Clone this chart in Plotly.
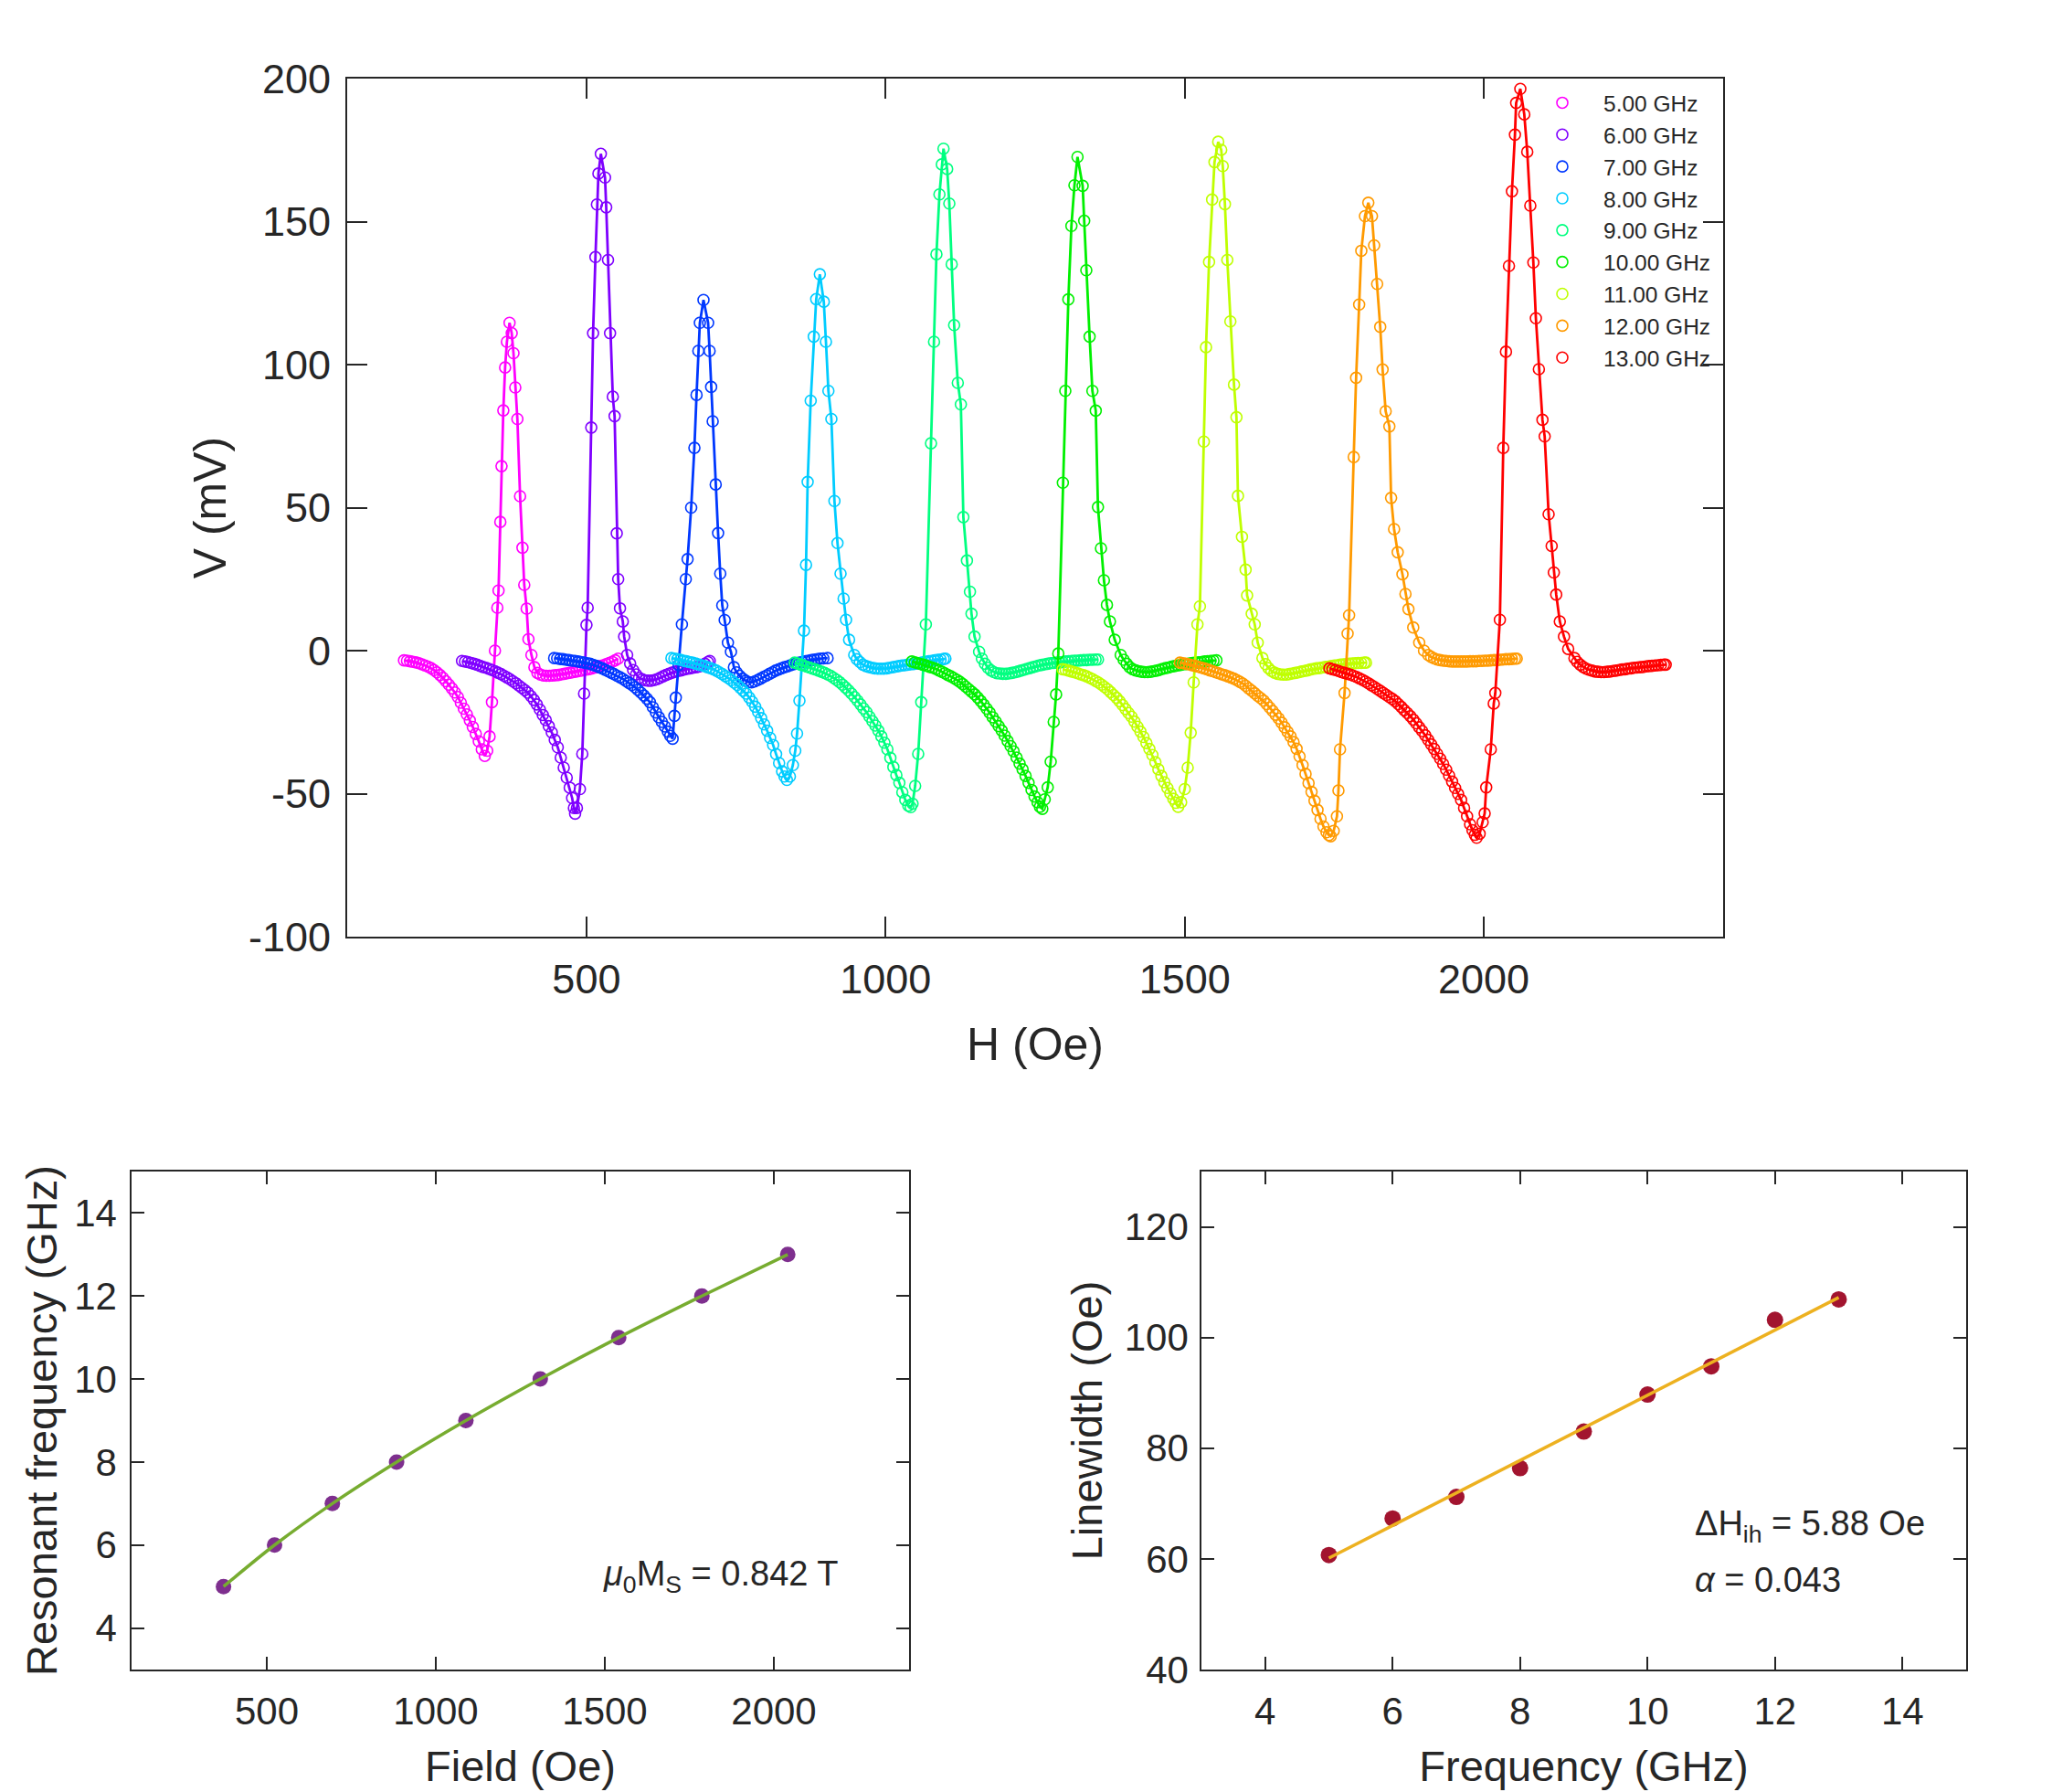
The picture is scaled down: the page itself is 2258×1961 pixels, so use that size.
import plotly.graph_objects as go
import numpy as np

# ---------------- data: top panel (FMR spectra, V in mV vs H in Oe) ----------------
labels = ["5.00 GHz", "6.00 GHz", "7.00 GHz", "8.00 GHz", "9.00 GHz",
          "10.00 GHz", "11.00 GHz", "12.00 GHz", "13.00 GHz"]
colors = ["#FF00FF", "#7F00FF", "#0038FF", "#00CCFF", "#00FF80",
          "#00F000", "#BFFF00", "#FF9A00", "#FF0000"]

spec_5 = [(195,-3.4),(200,-3.5),(205,-3.7),(210,-3.9),(215,-4.1),(220,-4.4),(225,-4.8),(230,-5.2),(235,-5.6),(240,-6.1),
          (245,-6.8),(250,-7.6),(255,-8.5),(260,-9.5),(265,-10.7),(270,-11.9),(275,-13.2),(280,-14.6),(285,-16.2),(290,-18.2),
          (295,-20.3),(300,-22.3),(305,-24.4),(310,-26.7),(315,-29.1),(320,-31.7),(325,-34.5),(330,-36.8),
          (334,-35),(338,-30),(342,-18),(347,0),(351,15),(353,21),(356,45),(358,64.5),(361,84),(364,99),(367,108),(371.4,114.6),
          (375,111),(378,104),(381,92),(384.5,81),(389,54),(393,36),(396,23),(400,14.7),(403,4),(408,-1.5),(413,-5.8),
          (418,-7.8),(423,-8.4),(428,-8.7),(433,-8.8),(438,-8.8),(443,-8.7),(448,-8.6),(453,-8.5),(458,-8.3),(463,-8.1),
          (468,-7.9),(473,-7.7),(478,-7.5),(483,-7.3),(488,-7.1),(493,-6.9),(498,-6.7),(503,-6.5),(508,-6.3),(513,-6.0),
          (518,-5.7),(523,-5.4),(528,-5.1),(533,-4.7),(538,-4.3),(543,-3.9),(548,-3.4),(553,-2.8)]

spec_6 = [(292,-3.6),(297,-3.8),(302,-4.0),(307,-4.3),(312,-4.6),(317,-4.9),(322,-5.3),(327,-5.7),(332,-6.0),(337,-6.4),
          (342,-6.8),(347,-7.2),(352,-7.7),(357,-8.2),(362,-8.8),(367,-9.4),(372,-10.0),(377,-10.7),(382,-11.4),(387,-12.2),
          (392,-13.0),(397,-13.8),(402,-14.7),(407,-15.9),(412,-17.2),(417,-18.8),(422,-20.6),(427,-22.5),(432,-24.3),(437,-26.4),
          (442,-28.6),(447,-31.2),(452,-33.8),(457,-37.4),(462,-40.9),(467,-44.4),(472,-47.9),(476,-51.5),(479,-55),(481,-57),
          (484,-55),(489,-48.4),(493,-36.1),(496,-15),(500,9),(502,15),(508,78),(511,111),(515,137.6),(517.5,156),(520,166.8),
          (524,173.7),(531,165.4),(533,155),(536,136.6),(539.4,111),(544,88.8),(547,82),(550.6,41),(553,25),(556,14.8),
          (560.7,10.2),(563,4.9),(568,-1.5),(573,-4.5),(578,-6.8),(583,-8.3),(588,-9.5),(593,-10.0),(598,-10.4),(603,-10.5),
          (608,-10.5),(613,-10.3),(618,-10.0),(623,-9.5),(628,-9.0),(633,-8.5),(638,-8.1),(643,-7.7),(648,-7.4),(653,-7.1),
          (658,-6.9),(663,-6.6),(668,-6.4),(673,-6.2),(678,-6.0),(683,-5.8),(688,-5.6),(693,-5.1),(698,-4.6),(703,-4.0),(706,-3.6)]

spec_7 = [(446,-2.6),(451,-2.7),(456,-2.9),(461,-3.0),(466,-3.2),(471,-3.3),(476,-3.5),(481,-3.6),(486,-3.8),(491,-4.0),
          (496,-4.2),(501,-4.4),(506,-4.6),(511,-5.0),(516,-5.3),(521,-5.8),(526,-6.2),(531,-6.7),(536,-7.2),(541,-7.7),
          (546,-8.2),(551,-8.8),(556,-9.3),(561,-9.9),(566,-10.6),(571,-11.3),(576,-12.0),(581,-12.8),(586,-13.7),(591,-14.7),
          (596,-15.7),(601,-16.8),(606,-18.0),(611,-19.8),(616,-21.6),(621,-23.3),(626,-24.9),(631,-26.5),(636,-28.3),(640,-29.8),
          (644,-30.8),(647,-22.8),(649.3,-16.4),(654,-5),(659.5,9.2),(666,25),(669,32),(675,50),(680.4,70.9),(684,89.4),
          (687,104.8),(689.5,114.6),(695.6,122.6),(703.3,114.6),(705.8,104.8),(708.4,92.2),(711,80.2),(716,58.1),(720,41.1),
          (723.6,26.9),(727,15.8),(731,10.7),(736.4,2.8),(741.5,-0.4),(746.5,-5.8),(751,-7.6),(756,-8.8),(761,-9.8),(766,-10.5),
          (771,-11.0),(776,-11.1),(781,-10.8),(786,-10.3),(791,-9.8),(796,-9.2),(801,-8.7),(806,-8.1),(811,-7.6),(816,-7.0),
          (821,-6.6),(826,-6.2),(831,-5.8),(836,-5.5),(841,-5.1),(846,-4.8),(851,-4.5),(856,-4.2),(861,-4.0),(866,-3.7),
          (871,-3.5),(876,-3.3),(881,-3.1),(886,-3.0),(891,-2.8),(896,-2.7),(903,-2.6)]

spec_8 = [(642,-2.6),(647,-2.8),(652,-3.0),(657,-3.2),(662,-3.5),(667,-3.7),(672,-4.0),(677,-4.2),(682,-4.5),(687,-4.8),
          (692,-5.1),(697,-5.4),(702,-5.8),(707,-6.1),(712,-6.5),(717,-7.0),(722,-7.6),(727,-8.2),(732,-8.9),(737,-9.6),
          (742,-10.3),(747,-11.2),(752,-12.0),(757,-13.0),(762,-14.0),(767,-15.0),(772,-16.4),(777,-17.9),(782,-19.6),(787,-21.5),
          (792,-23.6),(797,-25.8),(802,-28.0),(807,-30.5),(812,-33.0),(817,-36.2),(822,-39.3),(827,-42.2),(831,-44.0),(835,-45.2),
          (840,-44),(845,-40),(849,-35),(852,-29),(856,-17.5),(860,-5),(863.6,7),(867,30),(869.7,59),(874.8,87.4),(879.9,109.8),
          (884,122.9),(890.1,131.6),(896.7,122),(900.3,108),(904.4,90.8),(909.4,81),(914.5,52.3),(919.6,37.6),(924.7,26.9),
          (929.8,18.2),(933.9,10.8),(939,3.8),(947.6,-1.5),(952,-3.0),(957,-4.0),(962,-4.9),(967,-5.4),(972,-5.7),(977,-6.0),
          (982,-6.2),(987,-6.3),(992,-6.3),(997,-6.3),(1002,-6.2),(1007,-6.0),(1012,-5.8),(1017,-5.6),(1022,-5.4),(1027,-5.2),
          (1032,-5.1),(1037,-4.9),(1042,-4.8),(1047,-4.7),(1052,-4.5),(1057,-4.3),(1062,-4.1),(1067,-3.9),(1072,-3.7),(1077,-3.6),
          (1082,-3.4),(1087,-3.2),(1092,-3.1),(1097,-2.9),(1100,-2.8)]

spec_9 = [(848,-4.2),(853,-4.5),(858,-4.9),(863,-5.2),(868,-5.6),(873,-5.9),(878,-6.3),(883,-6.6),(888,-7.0),(893,-7.4),
          (898,-7.8),(903,-8.3),(908,-8.8),(913,-9.5),(918,-10.2),(923,-11.0),(928,-11.9),(933,-12.9),(938,-13.9),(943,-15.0),
          (948,-16.2),(953,-17.5),(958,-18.8),(963,-20.2),(968,-21.5),(973,-23.1),(978,-24.7),(983,-26.2),(988,-28.0),(993,-30.0),
          (998,-32.2),(1003,-34.5),(1008,-37.5),(1013,-40.7),(1018,-43.5),(1023,-46.2),(1028,-49.5),(1033,-52.2),(1038,-54.2),(1042,-54.7),
          (1045,-53.5),(1049.4,-47.3),(1054.5,-36.1),(1059.6,-18),(1063,-5),(1067.3,9.2),(1075.9,72.5),(1081,108),(1085,138.6),
          (1090,159.5),(1094,170),(1096.8,175.5),(1102.9,168.4),(1106.5,156.3),(1110.5,135.1),(1114.6,113.8),(1120.7,93.6),
          (1125.8,86.1),(1130,46.7),(1136,31.5),(1141,20.6),(1143.6,12.9),(1148.7,4.9),(1156.3,-0.4),(1161,-2.8),(1166,-4.6),
          (1171,-6.0),(1176,-6.9),(1181,-7.5),(1186,-7.9),(1191,-8.0),(1196,-8.1),(1201,-8.1),(1206,-8.0),(1211,-7.8),(1216,-7.6),
          (1221,-7.3),(1226,-7.0),(1231,-6.7),(1236,-6.4),(1241,-6.1),(1246,-5.8),(1251,-5.5),(1256,-5.2),(1261,-5.0),(1266,-4.8),
          (1271,-4.6),(1276,-4.4),(1281,-4.3),(1286,-4.2),(1291,-4.1),(1296,-4.0),(1301,-3.8),(1306,-3.7),(1311,-3.6),(1316,-3.5),
          (1321,-3.5),(1326,-3.4),(1331,-3.3),(1336,-3.3),(1341,-3.2),(1346,-3.2),(1351,-3.1),(1355,-3.1)]

spec_10 = [(1044,-3.8),(1049,-4.1),(1054,-4.4),(1059,-4.7),(1064,-5.0),(1069,-5.3),(1074,-5.7),(1079,-6.0),(1084,-6.4),(1089,-6.9),
           (1094,-7.4),(1099,-7.9),(1104,-8.5),(1109,-9.0),(1114,-9.6),(1119,-10.2),(1124,-10.9),(1129,-11.7),(1134,-12.6),(1139,-13.5),
           (1144,-14.4),(1149,-15.3),(1154,-16.4),(1159,-17.6),(1164,-18.9),(1169,-20.3),(1174,-21.7),(1179,-23.3),(1184,-24.8),(1189,-26.4),
           (1194,-27.9),(1199,-29.7),(1204,-31.6),(1209,-33.4),(1214,-35.2),(1219,-37.4),(1224,-39.5),(1229,-41.5),(1234,-43.8),(1239,-46.2),
           (1244,-48.7),(1249,-51.0),(1254,-53.0),(1258,-54.6),(1262,-55.3),(1266,-52),(1271,-47.8),(1276,-38.8),(1281,-24.9),(1285,-15.3),
           (1288.7,-1),(1296.3,58.7),(1300.4,90.8),(1305.5,122.8),(1310.6,148.5),(1315.7,162.7),(1320.8,172.6),(1329.4,162.5),(1332,150.3),
           (1335.5,133),(1341,109.8),(1345.7,90.8),(1351.3,83.9),(1355,50.2),(1360,35.8),(1365,24.6),(1370,16),(1375,10.2),(1383,3.8),
           (1393,-1.5),(1398,-3.2),(1403,-4.6),(1408,-5.8),(1413,-6.5),(1418,-6.9),(1423,-7.2),(1428,-7.4),(1433,-7.5),(1438,-7.5),
           (1443,-7.4),(1448,-7.2),(1453,-7.0),(1458,-6.7),(1463,-6.4),(1468,-6.1),(1473,-5.9),(1478,-5.6),(1483,-5.4),(1488,-5.2),
           (1493,-5.0),(1498,-4.8),(1503,-4.7),(1508,-4.5),(1513,-4.3),(1518,-4.2),(1523,-4.1),(1528,-4.0),(1533,-3.8),(1538,-3.7),
           (1543,-3.6),(1548,-3.5),(1553,-3.4)]

spec_11 = [(1296,-6.5),(1301,-6.7),(1306,-7.0),(1311,-7.3),(1316,-7.6),(1321,-7.9),(1326,-8.3),(1331,-8.6),(1336,-9.0),(1341,-9.5),
           (1346,-10.0),(1351,-10.6),(1356,-11.2),(1361,-11.9),(1366,-12.7),(1371,-13.5),(1376,-14.5),(1381,-15.5),(1386,-16.5),(1391,-17.7),
           (1396,-19.0),(1401,-20.4),(1406,-21.8),(1411,-23.1),(1416,-24.8),(1421,-26.6),(1426,-28.3),(1431,-30.2),(1436,-32.3),(1441,-34.4),
           (1446,-36.5),(1451,-39.0),(1456,-41.5),(1461,-43.8),(1466,-46.0),(1471,-48.0),(1476,-49.9),(1481,-51.8),(1485,-53.2),(1489,-54.6),
           (1494,-53),(1500,-48.4),(1505,-40.9),(1510,-28.7),(1515,-11.1),(1521.3,9.2),(1525.4,15.5),(1532,73.1),(1535.6,106.1),(1540.7,135.9),
           (1545.8,157.7),(1549.8,170.8),(1556,177.9),(1561,175.1),(1563.6,169.4),(1567.2,156.1),(1571.2,136.6),(1576.3,115.1),(1582.4,93),
           (1586.5,81.6),(1589,54.1),(1595.7,39.8),(1601.8,28.3),(1604.3,19.3),(1612,12.9),(1617,9.2),(1622,2.8),(1630,-2.6),(1635,-4.7),
           (1640,-6.1),(1645,-7.1),(1650,-7.7),(1655,-8.1),(1660,-8.3),(1665,-8.4),(1670,-8.4),(1675,-8.2),(1680,-8.0),(1685,-7.8),
           (1690,-7.6),(1695,-7.3),(1700,-7.1),(1705,-6.9),(1710,-6.6),(1715,-6.4),(1720,-6.2),(1725,-6.1),(1730,-5.9),(1735,-5.7),
           (1740,-5.6),(1745,-5.4),(1750,-5.2),(1755,-5.1),(1760,-4.9),(1765,-4.8),(1770,-4.7),(1775,-4.6),(1780,-4.5),(1785,-4.4),
           (1790,-4.3),(1795,-4.3),(1800,-4.2),(1803,-4.2)]

spec_12 = [(1492,-4.2),(1497,-4.4),(1502,-4.6),(1507,-4.8),(1512,-5.1),(1517,-5.3),(1522,-5.6),(1527,-5.9),(1532,-6.2),(1537,-6.5),
           (1542,-6.9),(1547,-7.2),(1552,-7.6),(1557,-7.9),(1562,-8.3),(1567,-8.6),(1572,-9.0),(1577,-9.4),(1582,-9.8),(1587,-10.3),
           (1592,-10.9),(1597,-11.5),(1602,-12.3),(1607,-13.2),(1612,-14.0),(1617,-14.9),(1622,-15.8),(1627,-16.6),(1632,-17.5),(1637,-18.7),
           (1642,-19.9),(1647,-21.1),(1652,-22.4),(1657,-23.7),(1662,-25.2),(1667,-26.8),(1672,-28.4),(1677,-30.0),(1682,-32.0),(1687,-34.3),
           (1692,-37.0),(1697,-40.0),(1702,-43.1),(1707,-46.3),(1712,-49.4),(1717,-52.5),(1722,-55.7),(1727,-58.8),(1732,-61.5),(1737,-63.5),
           (1741,-64.5),(1744,-64.9),(1749,-63),(1754.5,-57.9),(1757,-48.9),(1759.6,-34.5),(1767.2,-14.8),(1772.3,6),(1774.8,12.4),
           (1782.5,67.7),(1786.5,95.4),(1791.6,121),(1795.2,139.8),(1801.3,151.9),(1806.9,156.6),(1813,151.9),(1816.6,141.7),(1821.7,128.2),
           (1826.8,113.2),(1830.8,98.3),(1835.9,83.7),(1842.1,78.4),(1845,53.4),(1850,42.5),(1856,34.4),(1864,26.7),(1869,19.8),(1874,14.5),
           (1882,8.1),(1892,2.8),(1900,0),(1907,-1.5),(1912,-2.2),(1917,-2.7),(1922,-3.1),(1927,-3.3),(1932,-3.5),(1937,-3.6),
           (1942,-3.7),(1947,-3.8),(1952,-3.8),(1957,-3.8),(1962,-3.8),(1967,-3.8),(1972,-3.8),(1977,-3.7),(1982,-3.7),(1987,-3.7),
           (1992,-3.6),(1997,-3.6),(2002,-3.5),(2007,-3.5),(2012,-3.4),(2017,-3.3),(2022,-3.3),(2027,-3.2),(2032,-3.1),(2037,-3.0),
           (2042,-3.0),(2047,-2.9),(2052,-2.8),(2055,-2.8)]

spec_13 = [(1742,-6.2),(1747,-6.5),(1752,-6.8),(1757,-7.1),(1762,-7.5),(1767,-7.8),(1772,-8.1),(1777,-8.4),(1782,-8.8),(1787,-9.2),
           (1792,-9.7),(1797,-10.2),(1802,-10.8),(1807,-11.4),(1812,-12.1),(1817,-12.7),(1822,-13.4),(1827,-14.1),(1832,-14.8),(1837,-15.5),
           (1842,-16.2),(1847,-16.9),(1852,-17.7),(1857,-18.7),(1862,-19.7),(1867,-20.8),(1872,-21.8),(1877,-22.9),(1882,-24.1),(1887,-25.4),
           (1892,-26.8),(1897,-28.1),(1902,-29.6),(1907,-31.2),(1912,-32.8),(1917,-34.4),(1922,-36.1),(1927,-37.8),(1932,-39.6),(1937,-41.6),
           (1942,-43.7),(1947,-45.8),(1952,-48.0),(1957,-50.1),(1962,-52.2),(1967,-55.0),(1972,-57.9),(1977,-60.7),(1981,-62.8),(1985,-64.4),
           (1988,-65.4),(1993,-64),(1998,-60),(2001.4,-56.9),(2004,-47.8),(2011.6,-34.5),(2016.6,-18.5),(2019.2,-14.8),(2026.8,10.8),
           (2032.5,70.9),(2037,104.5),(2042,134.5),(2047,160.6),(2052,180.4),(2054,191.5),(2061,196.4),(2067.6,187.5),(2072.6,174.4),
           (2077.7,155.6),(2082.8,135.7),(2087,116.2),(2092,98.4),(2098,80.7),(2101.7,74.9),(2108.3,47.7),(2113.4,36.6),(2117,27.3),
           (2121,19.6),(2127,10.2),(2134,4.9),(2141,0.6),(2151.5,-2.6),(2156,-3.9),(2161,-4.9),(2166,-5.7),(2171,-6.3),(2176,-6.7),
           (2181,-7.0),(2186,-7.3),(2191,-7.4),(2196,-7.5),(2201,-7.5),(2206,-7.4),(2211,-7.3),(2216,-7.1),(2221,-7.0),(2226,-6.8),
           (2231,-6.6),(2236,-6.5),(2241,-6.3),(2246,-6.2),(2251,-6.0),(2256,-5.9),(2261,-5.8),(2266,-5.7),(2271,-5.5),(2276,-5.4),
           (2281,-5.3),(2286,-5.2),(2291,-5.1),(2296,-5.0),(2301,-4.9),(2304,-4.9)]

spectra = [spec_5, spec_6, spec_7, spec_8, spec_9, spec_10, spec_11, spec_12, spec_13]

# ---------------- data: bottom panels ----------------
res_field = [372, 523, 694, 884, 1089, 1309, 1541, 1787, 2041]   # Oe
res_freq = [5, 6, 7, 8, 9, 10, 11, 12, 13]                       # GHz
lw_freq = [5, 6, 7, 8, 9, 10, 11, 12, 13]                        # GHz
linewidth = [60.7, 67.3, 71.2, 76.4, 83.0, 89.7, 94.8, 103.2, 106.9]  # Oe

# tick labels (MATLAB style hyphen minus)
v_ticks = [-100, -50, 0, 50, 100, 150, 200]
v_ticktext = ["-100", "-50", "0", "50", "100", "150", "200"]
h_ticks = [500, 1000, 1500, 2000]
f_ticks = [4, 6, 8, 10, 12, 14]
lw_ticks = [40, 60, 80, 100, 120]

# ---------------- layout helpers ----------------
W, H = 2258, 1961
PAGE_OFF = 8          # default page margin around the plot div
FONT = "Liberation Sans, Arial, sans-serif"
AX = "#262626"


def px(x):
    return (x - PAGE_OFF) / W


def py(y):
    return 1 - (y - PAGE_OFF) / H


def dx(a, b):
    return [px(a), px(b)]


def dy(top, bottom):
    return [py(bottom), py(top)]


fig = go.Figure()

for lab, col, spec in zip(labels, colors, spectra):
    hh = [p[0] for p in spec]
    vv = [p[1] for p in spec]
    fig.add_trace(go.Scatter(
        x=hh, y=vv, mode="markers", name=lab, legendgroup=lab,
        marker=dict(symbol="circle-open", size=12, color=col, line=dict(width=1.6, color=col)),
        xaxis="x", yaxis="y"))
    fig.add_trace(go.Scatter(
        x=hh, y=vv, mode="lines", showlegend=False, legendgroup=lab,
        line=dict(color=col, width=2.8), xaxis="x", yaxis="y"))

# bottom-left: resonant frequency vs field
fig.add_trace(go.Scatter(
    x=res_field, y=res_freq, mode="markers", showlegend=False,
    marker=dict(size=17, color="#7E2F8E"), xaxis="x2", yaxis="y2"))
fig.add_trace(go.Scatter(
    x=res_field, y=res_freq, mode="lines", showlegend=False,
    line=dict(color="#77AC30", width=3.5, shape="spline", smoothing=0.8),
    xaxis="x2", yaxis="y2"))

# bottom-right: linewidth vs frequency with least-squares linear fit
slope, intercept = np.polyfit(lw_freq, linewidth, 1)
fit_x = [min(lw_freq), max(lw_freq)]
fit_y = [slope * f + intercept for f in fit_x]
fig.add_trace(go.Scatter(
    x=lw_freq, y=linewidth, mode="markers", showlegend=False,
    marker=dict(size=18, color="#A2142F"), xaxis="x3", yaxis="y3"))
fig.add_trace(go.Scatter(
    x=fit_x, y=fit_y, mode="lines", showlegend=False,
    line=dict(color="#EDB120", width=3.5), xaxis="x3", yaxis="y3"))


def axis(domain, anchor, rng, tickvals, title, tick_size, title_size, ticklen, lw,
         standoff, lab_standoff, ticktext=None):
    d = dict(
        domain=domain, anchor=anchor, range=rng, tickvals=tickvals,
        ticks="inside", ticklen=ticklen, tickwidth=lw, tickcolor=AX,
        showline=True, linewidth=lw, linecolor=AX, mirror="allticks",
        showgrid=False, zeroline=False, automargin=False,
        tickfont=dict(family=FONT, size=tick_size, color=AX),
        ticklabelstandoff=lab_standoff,
        title=dict(text=title, font=dict(family=FONT, size=title_size, color=AX), standoff=standoff),
    )
    if ticktext is not None:
        d["ticktext"] = ticktext
    return d


fig.update_layout(
    width=W, height=H,
    margin=dict(l=0, r=0, t=0, b=0, autoexpand=False),
    paper_bgcolor="white", plot_bgcolor="white",
    font=dict(family=FONT, color=AX),
    xaxis=axis(dx(380, 1886), "y", [100, 2400], h_ticks, "H (Oe)",
               45, 50, 22, 2, 29, 6),
    yaxis=axis(dy(86, 1025), "x", [-100, 200], v_ticks, "V (mV)",
               45, 50, 22, 2, 8, 7, v_ticktext),
    xaxis2=axis(dx(144, 995), "y2", [100, 2400], h_ticks, "Field (Oe)",
                42, 47, 14, 1.5, 21, 8),
    yaxis2=axis(dy(1282, 1827), "x2", [3, 15], f_ticks, "Resonant frequency (GHz)",
                42, 47, 14, 1.5, 4, 6),
    xaxis3=axis(dx(1315, 2152), "y3", [3, 15], f_ticks, "Frequency (GHz)",
                42, 47, 14, 1.5, 21, 8),
    yaxis3=axis(dy(1282, 1827), "x3", [40, 130], lw_ticks, "Linewidth (Oe)",
                42, 47, 14, 1.5, 9, 4),
    legend=dict(
        x=px(1665), xanchor="left", y=py(90), yanchor="top",
        font=dict(family=FONT, size=24.5, color=AX),
        bgcolor="rgba(0,0,0,0)", borderwidth=0, itemwidth=80, tracegroupgap=0,
    ),
    annotations=[
        dict(text="<i>μ</i><sub>0</sub>M<sub>S</sub> = 0.842 T", x=px(658), y=py(1725),
             xref="paper", yref="paper", xanchor="left", yanchor="middle", showarrow=False,
             font=dict(family=FONT, size=38, color=AX)),
        dict(text="ΔH<sub>ih</sub> = 5.88 Oe", x=px(1853), y=py(1670),
             xref="paper", yref="paper", xanchor="left", yanchor="middle", showarrow=False,
             font=dict(family=FONT, size=38, color=AX)),
        dict(text="<i>α</i> = 0.043", x=px(1853), y=py(1729),
             xref="paper", yref="paper", xanchor="left", yanchor="middle", showarrow=False,
             font=dict(family=FONT, size=38, color=AX)),
    ],
)

fig.write_html("out.html")
